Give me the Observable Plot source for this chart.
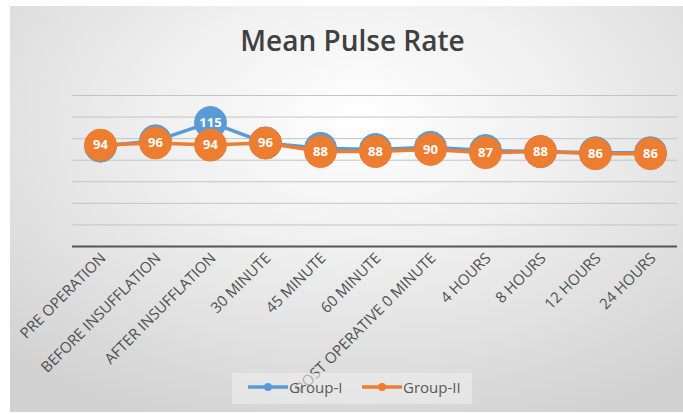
<!DOCTYPE html>
<html>
<head>
<meta charset="utf-8">
<script src="https://cdn.jsdelivr.net/npm/d3@7"></script>
<script src="https://cdn.jsdelivr.net/npm/@observablehq/plot@0.6"></script>
<style>
  html, body { margin: 0; padding: 0; background: #ffffff; }
  #wrap { position: relative; width: 683px; height: 414px; overflow: hidden; }
  #bg { position: absolute; left: 10px; top: 6px; width: 673px; height: 406px;
        background: radial-gradient(ellipse 75% 80% at 52% 28%, #ffffff 0%, #f0f0f0 40%, #dcdcdc 80%, #d2d2d2 100%); }
  #title { position: absolute; left: 0; top: 21px; width: 705px; text-align: center;
           font-family: "Open Sans", sans-serif; font-weight: 600; font-size: 28px; color: #404040; }
  #chart { position: absolute; left: 0; top: 0; }
  #legend { position: absolute; left: 232px; top: 373px; width: 240px; height: 31px;
            background: rgba(238,238,238,0.6); font-family: "Open Sans", sans-serif; font-size: 15px; color: #595959; }
  .item { position: absolute; top: 4px; display: flex; align-items: center; }
  .item svg { margin-right: 1px; }
</style>
</head>
<body>
<div id="wrap">
  <div id="bg"></div>
  <div id="chart"></div>
  <div id="title">Mean Pulse Rate</div>
  <div id="legend"></div>
</div>
<script>
const categories = ["PRE OPERATION", "BEFORE INSUFFLATION", "AFTER INSUFFLATION", "30 MINUTE", "45 MINUTE", "60 MINUTE", "POST OPERATIVE 0 MINUTE", "4 HOURS", "8 HOURS", "12 HOURS", "24 HOURS"];
const group1 = [93, 98, 115, 96, 91, 90, 92, 89, 88, 87, 87];
const group2 = [94, 96, 94, 96, 88, 88, 90, 87, 88, 86, 86];
const seriesNames = ["Group-I", "Group-II"];
const seriesColors = ["#5B9BD5", "#ED7D31"];
const yTicks = [20, 40, 60, 80, 100, 120, 140];

const rows1 = categories.map((c, i) => ({cat: c, value: group1[i]}));
const rows2 = categories.map((c, i) => ({cat: c, value: group2[i]}));

function seriesMarks(rows, color) {
  return [
    Plot.line(rows, {x: "cat", y: "value", stroke: color, strokeWidth: 3.5}),
    Plot.dot(rows, {x: "cat", y: "value", r: 16, fill: color, stroke: color, strokeWidth: 1}),
    Plot.text(rows, {x: "cat", y: "value", text: d => String(d.value), fill: "white", fontWeight: "bold", fontSize: 13, fontFamily: "Open Sans, sans-serif"})
  ];
}

const chart = Plot.plot({
  width: 683,
  height: 414,
  marginLeft: 72,
  marginRight: 6,
  marginTop: 95,
  marginBottom: 168,
  style: {background: "transparent", fontFamily: "Open Sans, sans-serif"},
  x: {type: "point", domain: categories, padding: 0.5},
  y: {domain: [0, 140], axis: null},
  marks: [
    Plot.ruleY(yTicks, {stroke: "#c4c4c4", strokeWidth: 1}),
    Plot.axisX({tickRotate: -45, tickSize: 0, tickPadding: 12, fontSize: 15, fill: "#505050", label: null}),
    Plot.ruleY([0], {stroke: "#555555", strokeWidth: 2}),
    ...seriesMarks(rows1, seriesColors[0]),
    ...seriesMarks(rows2, seriesColors[1])
  ]
});
chart.querySelectorAll("[aria-label='x-axis tick label'] text").forEach(t => t.setAttribute("dx", "4"));
document.getElementById("chart").appendChild(chart);

const legend = document.getElementById("legend");
const lefts = [16, 130];
seriesNames.forEach((name, i) => {
  const item = document.createElement("div");
  item.className = "item";
  item.style.left = lefts[i] + "px";
  item.innerHTML = `<svg width="40" height="20"><line x1="0" y1="10" x2="40" y2="10" stroke="${seriesColors[i]}" stroke-width="3.5"/><circle cx="20" cy="10" r="4" fill="${seriesColors[i]}"/></svg><span>${name}</span>`;
  legend.appendChild(item);
});
</script>
</body>
</html>
